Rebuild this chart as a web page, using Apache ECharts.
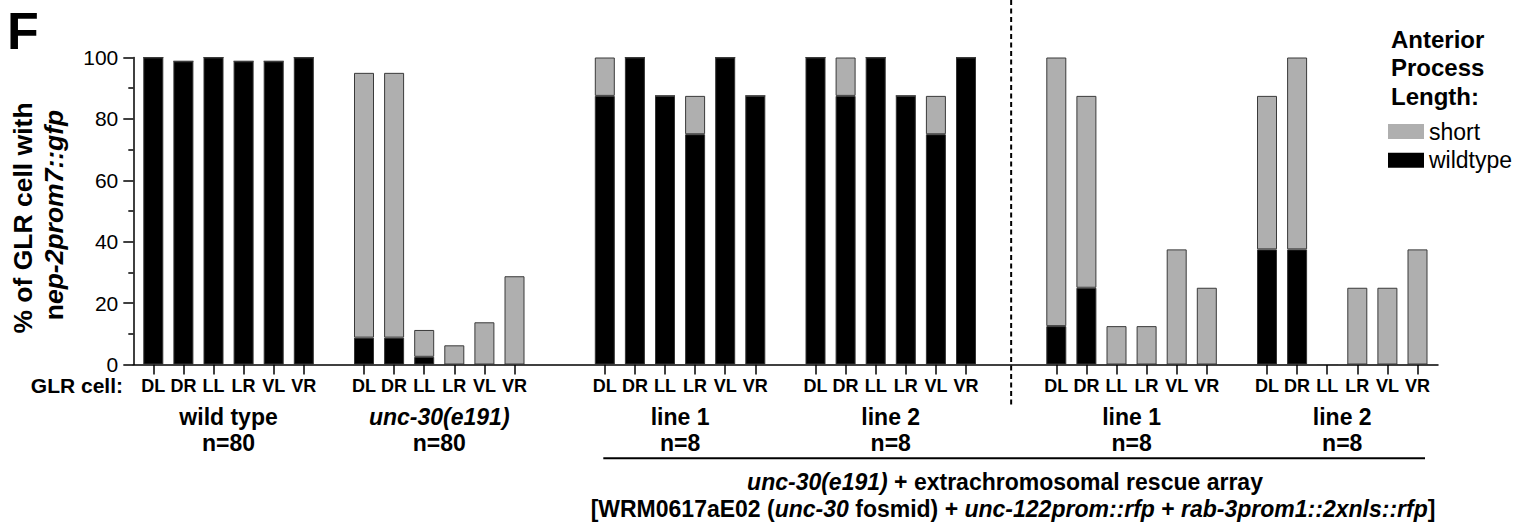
<!DOCTYPE html>
<html><head><meta charset="utf-8">
<script src="https://cdn.jsdelivr.net/npm/echarts@6/dist/echarts.min.js"></script>
<style>html,body{margin:0;padding:0;background:#fff}#c{width:1532px;height:527px}</style>
</head><body><div id="c"></div>
<script>
// ---- data ----
const cells = ['DL', 'DR', 'LL', 'LR', 'VL', 'VR'];
const groupNames = ['wild type', 'unc-30(e191)', 'line 1', 'line 2', 'line 1', 'line 2'];
const groupItalic = [false, true, false, false, false, false];
const groupN = ['n=80', 'n=80', 'n=8', 'n=8', 'n=8', 'n=8'];
const gapSlots = [1, 2, 1, 2, 1]; // empty category slots between consecutive groups

const wildTypeWT    = [100, 98.75, 100, 98.75, 98.75, 100];
const wildTypeShort = [0, 0, 0, 0, 0, 0];
const unc30WT       = [8.75, 8.75, 2.5, 0, 0, 0];
const unc30Short    = [86.25, 86.25, 8.75, 6.25, 13.75, 28.75];
const resA1WT       = [87.5, 100, 87.5, 75, 100, 87.5];
const resA1Short    = [12.5, 0, 0, 12.5, 0, 0];
const resA2WT       = [100, 87.5, 100, 87.5, 75, 100];
const resA2Short    = [0, 12.5, 0, 0, 12.5, 0];
const resB1WT       = [12.5, 25, 0, 0, 0, 0];
const resB1Short    = [87.5, 62.5, 12.5, 12.5, 37.5, 25];
const resB2WT       = [37.5, 37.5, 0, 0, 0, 0];
const resB2Short    = [50, 62.5, 0, 25, 25, 37.5];

const yTicks = [0, 20, 40, 60, 80, 100];

// ---- build category axis + series arrays ----
const groupWT = [wildTypeWT, unc30WT, resA1WT, resA2WT, resB1WT, resB2WT];
const groupShort = [wildTypeShort, unc30Short, resA1Short, resA2Short, resB1Short, resB2Short];
const categories = [], wtData = [], shortData = [], groupSlots = [];
groupWT.forEach((g, gi) => {
  if (gi > 0) for (let k = 0; k < gapSlots[gi - 1]; k++) { categories.push(''); wtData.push('-'); shortData.push('-'); }
  const start = categories.length;
  cells.forEach((c, ci) => { categories.push(c); wtData.push(g[ci]); shortData.push(groupShort[gi][ci]); });
  groupSlots.push([start, start + cells.length - 1]);
});

const FONT = "'Liberation Sans', Arial, Helvetica, sans-serif";
const chart = echarts.init(document.getElementById('c'), null, {renderer: 'svg'});

const option = {
  animation: false,
  backgroundColor: '#fff',
  textStyle: {fontFamily: FONT},
  grid: [
    {left: 133.3, right: 94, top: 57.5, bottom: 162.5},
    {left: 138.25, right: 99.45, top: 57.5, bottom: 162.5}
  ],
  xAxis: [
    {gridIndex: 0, type: 'value', min: 0, max: 1,
     axisLine: {show: true, lineStyle: {color: '#000', width: 1.5}},
     axisTick: {show: false}, axisLabel: {show: false}, splitLine: {show: false}},
    {gridIndex: 1, type: 'category', data: categories,
     axisLine: {show: false},
     axisTick: {show: true, alignWithLabel: true, interval: (i, v) => v !== '', length: 10,
                lineStyle: {color: '#000', width: 1.5}},
     axisLabel: {interval: 0, margin: 12, fontSize: 18, fontWeight: 'bold', color: '#000', fontFamily: FONT},
     splitLine: {show: false}}
  ],
  yAxis: [
    {gridIndex: 0, type: 'value', min: yTicks[0], max: yTicks[yTicks.length - 1], interval: 20,
     axisLine: {show: true, lineStyle: {color: '#000', width: 1.5}},
     axisTick: {show: true, length: 10, lineStyle: {color: '#000', width: 1.5}},
     minorTick: {show: true, splitNumber: 2, length: 5, lineStyle: {color: '#000', width: 1.5}},
     axisLabel: {fontSize: 21, color: '#000', margin: 15, fontFamily: FONT},
     splitLine: {show: false}, minorSplitLine: {show: false}},
    {gridIndex: 1, type: 'value', min: 0, max: 100, show: false, splitLine: {show: false}}
  ],
  legend: {
    orient: 'vertical', left: 1388, top: 120, padding: 0,
    itemWidth: 36, itemHeight: 15, itemGap: 5.7, selectedMode: false, icon: 'rect',
    data: ['short', 'wildtype'],
    itemStyle: {borderWidth: 0},
    textStyle: {fontSize: 23, color: '#000', fontFamily: FONT}
  },
  series: [
    {name: 'wildtype', type: 'bar', xAxisIndex: 1, yAxisIndex: 1, stack: 'glr', data: wtData,
     barWidth: 20, itemStyle: {color: '#000', borderColor: '#333', borderWidth: 1}},
    {name: 'short', type: 'bar', xAxisIndex: 1, yAxisIndex: 1, stack: 'glr', data: shortData,
     barWidth: 20, itemStyle: {color: '#afafaf', borderColor: '#3a3a3a', borderWidth: 1}}
  ]
};
chart.setOption(option);

// ---- annotations positioned from the axis scale ----
const px = i => chart.convertToPixel({xAxisIndex: 1}, i);
const bold = sz => ({fontFamily: FONT, fontWeight: 'bold', fontSize: sz, fill: '#000'});
const boldIt = sz => ({fontFamily: FONT, fontWeight: 'bold', fontStyle: 'italic', fontSize: sz, fill: '#000'});
const graphics = [];
function txt(x, y, text, st, align, extra) {
  graphics.push(Object.assign({type: 'text', x: x, y: y, silent: true,
    style: Object.assign({text: text, align: align || 'center', verticalAlign: 'middle'}, st)}, extra || {}));
}
// panel letter
txt(7, 30.5, 'F', bold(52), 'left');
// y-axis title
txt(23, 218, '% of GLR cell with', bold(26.5), 'center', {rotation: Math.PI / 2});
txt(54, 215, '{a|n}{b|ep-2prom7::gfp}', {rich: {a: bold(26.5), b: boldIt(26.5)}}, 'center', {rotation: Math.PI / 2});
// x row header
txt(123, 385, 'GLR cell:', bold(21), 'right');
// group labels
groupSlots.forEach((s, gi) => {
  const cx = (px(s[0]) + px(s[1])) / 2;
  txt(cx, 417, groupNames[gi], groupItalic[gi] ? boldIt(23) : bold(23));
  txt(cx, 443, groupN[gi], bold(23));
});
// bracket underline for rescue lines
graphics.push({type: 'line', silent: true,
  shape: {x1: px(groupSlots[2][0]) - 1.5, y1: 458.3, x2: px(groupSlots[5][1]) + 7.5, y2: 458.3},
  style: {stroke: '#000', lineWidth: 2}});
// dashed divider (centre of the gap between the two rescue sets)
const divX = (px(groupSlots[3][1]) + px(groupSlots[4][0])) / 2;
graphics.push({type: 'line', silent: true,
  shape: {x1: divX, y1: 0, x2: divX, y2: 408},
  style: {stroke: '#000', lineWidth: 2, lineDash: [5, 3.5]}});
// bottom caption
txt(1005, 482, '{i|unc-30(e191)}{b| + extrachromosomal rescue array}', {rich: {i: boldIt(23), b: bold(23)}});
txt(1013, 508.5, '{b|[WRM0617aE02 (}{i|unc-30}{b| fosmid) + }{i|unc-122prom::rfp}{b| + }{i|rab-3prom1::2xnls::rfp}{b|]}',
    {rich: {i: boldIt(23), b: bold(23)}});
// legend title
txt(1391, 24.75, 'Anterior\nProcess\nLength:', Object.assign(bold(24), {lineHeight: 28.5}), 'left', {});
graphics[graphics.length - 1].style.verticalAlign = 'top';

chart.setOption({graphic: graphics});
</script>
</body></html>
